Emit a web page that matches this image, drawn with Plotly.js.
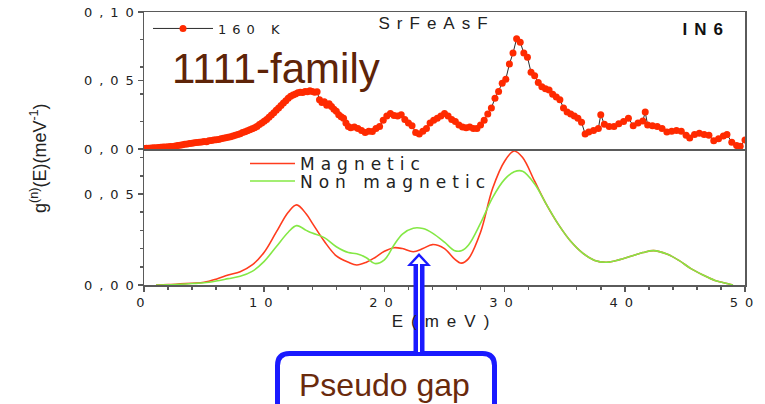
<!DOCTYPE html>
<html>
<head>
<meta charset="utf-8">
<script src="https://cdn.plot.ly/plotly-3.0.1.min.js"></script>
<style>
  html, body { margin: 0; padding: 0; background: #ffffff; }
  #chart { width: 765px; height: 404px; }
  .xtick text, .ytick text, .y2tick text { letter-spacing: 7px; }
  .ytick text, .y2tick text { translate: 6px 0; }
  [class*="legend"] text, text.legendtext { letter-spacing: 6px; }
  [class*="legend"] .scrollbox, [class*="legend"] g { clip-path: none !important; }
  .xtitle { letter-spacing: 8px; }
  .annotation[data-index="1"] text, .annotation[data-index="2"] text { letter-spacing: 7px; }
</style>
</head>
<body>
<div id="chart"></div>
<script>
// Measured g(n)(E) at 160 K (IN6), energy in meV
const eTop = [
  0.0, 0.2, 0.4, 0.6, 0.8, 1.0, 1.2, 1.4, 1.6, 1.8,
  2.0, 2.2, 2.4, 2.6, 2.8, 3.0, 3.2, 3.4, 3.6, 3.8,
  4.0, 4.2, 4.4, 4.6, 4.8, 5.0, 5.2, 5.4, 5.6, 5.8,
  6.0, 6.2, 6.4, 6.6, 6.8, 7.0, 7.2, 7.4, 7.6, 7.8,
  8.0, 8.2, 8.4, 8.6, 8.8, 9.0, 9.2, 9.4, 9.6, 9.8,
  10.0, 10.2, 10.4, 10.6, 10.8, 11.0, 11.2, 11.4, 11.6, 11.8,
  12.0, 12.2, 12.4, 12.6, 12.8, 13.0, 13.2, 13.4, 13.6, 13.8,
  14.0, 14.2, 14.4, 14.6, 14.8, 15.0, 15.2, 15.4, 15.6, 15.8,
  16.0, 16.2, 16.4, 16.6, 16.8, 17.0, 17.2,
  17.5, 17.8, 18.1, 18.4, 18.7, 19.0, 19.3, 19.6, 19.9, 20.2,
  20.5, 20.8, 21.1, 21.4, 21.7, 22.0, 22.3, 22.6, 22.9, 23.2,
  23.5, 23.8, 24.1, 24.4, 24.7, 25.0, 25.3, 25.6, 25.9, 26.2,
  26.5, 26.8, 27.1, 27.4, 27.7, 28.0, 28.3, 28.6, 28.9, 29.2,
  29.5, 29.8, 30.1, 30.4, 30.7, 31.0, 31.3, 31.6, 31.9, 32.2,
  32.5, 32.8, 33.1, 33.4, 33.7, 34.0, 34.3, 34.6, 34.9, 35.2,
  35.5, 35.8, 36.1, 36.4, 36.7,
  37.0, 37.4, 37.8, 38.0, 38.3, 38.7, 39.1, 39.5, 39.9, 40.3,
  40.7, 41.1, 41.5, 41.7, 41.9, 42.3, 42.7, 43.1, 43.5, 43.9,
  44.3, 44.7, 45.1, 45.4, 45.8, 46.2, 46.6, 47.0, 47.4, 47.8,
  48.2, 48.5, 48.9, 49.3, 49.6, 50.0
];
const gTop = [
  0.0003, 0.0005, 0.0006, 0.0008, 0.0009, 0.0010, 0.0011, 0.0012, 0.0014, 0.0015,
  0.0016, 0.0018, 0.0019, 0.0022, 0.0025, 0.0028, 0.0031, 0.0035, 0.0036, 0.0040,
  0.0042, 0.0045, 0.0047, 0.0050, 0.0052, 0.0055, 0.0053, 0.0060, 0.0062, 0.0066,
  0.0068, 0.0070, 0.0075, 0.0079, 0.0082, 0.0086, 0.0090, 0.0094, 0.0100, 0.0106,
  0.0112, 0.0120, 0.0126, 0.0133, 0.0140, 0.0148, 0.0156, 0.0165, 0.0178, 0.0190,
  0.0203, 0.0216, 0.0232, 0.0248, 0.0264, 0.0282, 0.0300, 0.0318, 0.0335, 0.0352,
  0.0370, 0.0385, 0.0395, 0.0402, 0.0410, 0.0415, 0.0412, 0.0420, 0.0418, 0.0425,
  0.0420, 0.0415, 0.0418, 0.0360, 0.0340, 0.0345, 0.0320, 0.0330, 0.0310, 0.0290,
  0.0275, 0.0250, 0.0235, 0.0225, 0.0190, 0.0165, 0.0155,
  0.0160, 0.0150, 0.0135, 0.0120, 0.0130, 0.0128, 0.0150, 0.0165, 0.0210, 0.0240,
  0.0260, 0.0245, 0.0240, 0.0250, 0.0215, 0.0190, 0.0170, 0.0120, 0.0110, 0.0130,
  0.0150, 0.0190, 0.0210, 0.0225, 0.0240, 0.0260, 0.0240, 0.0215, 0.0200, 0.0175,
  0.0160, 0.0155, 0.0160, 0.0150, 0.0150, 0.0175, 0.0210, 0.0255, 0.0300, 0.0370,
  0.0420, 0.0480, 0.0510, 0.0620, 0.0700, 0.0805, 0.0780, 0.0700, 0.0670, 0.0560,
  0.0535, 0.0485, 0.0455, 0.0440, 0.0430, 0.0400, 0.0380, 0.0360, 0.0300, 0.0270,
  0.0255, 0.0240, 0.0225, 0.0195, 0.0110,
  0.0125, 0.0135, 0.0150, 0.0250, 0.0180, 0.0165, 0.0165, 0.0185, 0.0200, 0.0225,
  0.0170, 0.0190, 0.0205, 0.0270, 0.0175, 0.0170, 0.0165, 0.0150, 0.0125, 0.0130,
  0.0135, 0.0130, 0.0100, 0.0080, 0.0105, 0.0115, 0.0105, 0.0100, 0.0060, 0.0075,
  0.0095, 0.0105, 0.0050, 0.0025, 0.0020, 0.0065
];

// Calculated g(n)(E): magnetic and non magnetic models
const eCalc = [
  1, 2, 3, 4, 5, 6, 7, 8, 9, 10, 11, 12,
  12.7, 13.5, 14, 15, 16, 17,
  17.7, 18.5, 19.2, 20, 20.8, 21.5, 22.4, 23.2, 24,
  25, 25.8, 26.4, 27, 28, 29, 30, 30.8, 31.5,
  32.5, 33.5, 34.5, 35.5, 36.5, 37.5, 38.5, 39.5, 40.5, 41.5,
  42.4, 43.5, 44.5, 45.5, 46.5, 47.5, 48.5, 49
];
const gMagnetic = [
  0, 0.0002, 0.0006, 0.0010, 0.0015, 0.0032, 0.0055, 0.0073, 0.0110, 0.0180, 0.0290, 0.0400,
  0.0440, 0.0390, 0.0340, 0.0240, 0.0160, 0.0125,
  0.0110, 0.0125, 0.0150, 0.0185, 0.0205, 0.0200, 0.0183, 0.0200, 0.0222,
  0.0200, 0.0145, 0.0120, 0.0145, 0.0290, 0.0530, 0.0680, 0.0736, 0.0700,
  0.0570, 0.0440, 0.0330, 0.0240, 0.0175, 0.0135, 0.0125, 0.0138, 0.0158, 0.0178,
  0.0189, 0.0170, 0.0135, 0.0090, 0.0055, 0.0025, 0.0008, 0
];
const gNonMagnetic = [
  0, 0.0001, 0.0004, 0.0008, 0.0012, 0.0022, 0.0035, 0.0048, 0.0075, 0.0130, 0.0210, 0.0290,
  0.0326, 0.0300, 0.0285, 0.0260, 0.0210, 0.0178,
  0.0172, 0.0150, 0.0118, 0.0138, 0.0220, 0.0280, 0.0312, 0.0310, 0.0285,
  0.0235, 0.0190, 0.0188, 0.0220, 0.0340, 0.0480, 0.0580, 0.0622, 0.0625,
  0.0555, 0.0440, 0.0330, 0.0240, 0.0175, 0.0135, 0.0125, 0.0138, 0.0158, 0.0178,
  0.0189, 0.0170, 0.0135, 0.0090, 0.0055, 0.0025, 0.0008, 0
];

// Plot-area geometry (pixels) and helpers to place decorations in paper units
const ML = 144, MT = 12, PW = 601, PH = 273;
const px = p => (p - ML) / PW;
const py = p => (MT + PH - p) / PH;
const split = py(149);

const axisLine = '#5a5a5a';
const sans = 'Liberation Sans, Arial, sans-serif';
const wide = 'DejaVu Sans, Verdana, sans-serif';
const tickFont = { family: wide, size: 13, color: '#222' };

const traces = [
  {
    type: 'scatter', mode: 'lines+markers', name: '160 K',
    x: eTop, y: gTop, xaxis: 'x2', yaxis: 'y2', legend: 'legend',
    line: { color: '#2b2b2b', width: 1 },
    marker: { color: '#ff2a00', size: 7 }
  },
  {
    type: 'scatter', mode: 'lines', name: 'Magnetic',
    x: eCalc, y: gMagnetic, xaxis: 'x', yaxis: 'y', legend: 'legend2',
    line: { color: '#ff3c1e', width: 1.6, shape: 'spline', smoothing: 1 }
  },
  {
    type: 'scatter', mode: 'lines', name: 'Non magnetic',
    x: eCalc, y: gNonMagnetic, xaxis: 'x', yaxis: 'y', legend: 'legend3',
    line: { color: '#84e845', width: 1.6, shape: 'spline', smoothing: 1 }
  }
];

const blue = '#1a1aff';
const r = 12;
const boxL = 277.5, boxR = 494.5, boxT = 353.5, boxB = 430;
const boxPath =
  `M ${px(boxL)},${py(boxB)} L ${px(boxL)},${py(boxT + r)} ` +
  `Q ${px(boxL)},${py(boxT)} ${px(boxL + r)},${py(boxT)} ` +
  `L ${px(boxR - r)},${py(boxT)} ` +
  `Q ${px(boxR)},${py(boxT)} ${px(boxR)},${py(boxT + r)} ` +
  `L ${px(boxR)},${py(boxB)}`;

const shapes = [
  // rounded label box
  { type: 'path', xref: 'paper', yref: 'paper', layer: 'above', path: boxPath,
    line: { color: blue, width: 5 }, fillcolor: 'rgba(0,0,0,0)' },
  // double-line arrow shaft
  { type: 'rect', xref: 'paper', yref: 'paper', layer: 'above',
    x0: px(413.5), x1: px(424.5), y0: py(352), y1: py(264),
    line: { width: 0 }, fillcolor: blue },
  // arrow head
  { type: 'path', xref: 'paper', yref: 'paper', layer: 'above',
    path: `M ${px(407)},${py(266)} L ${px(419)},${py(253)} L ${px(431)},${py(266)} Z`,
    line: { width: 0 }, fillcolor: blue },
  { type: 'path', xref: 'paper', yref: 'paper', layer: 'above',
    path: `M ${px(412)},${py(264)} L ${px(419)},${py(256.5)} L ${px(426)},${py(264)} Z`,
    line: { width: 0 }, fillcolor: '#ffffff' },
  { type: 'rect', xref: 'paper', yref: 'paper', layer: 'above',
    x0: px(418), x1: px(420), y0: py(352), y1: py(262),
    line: { width: 0 }, fillcolor: '#ffffff' }
];

const note = (text, x, y, font, extra) => Object.assign({
  text, xref: 'paper', yref: 'paper', x: px(x), y: py(y),
  xanchor: 'center', yanchor: 'middle', showarrow: false, font
}, extra || {});

const annotations = [
  note('g<sup>(n)</sup>(E)(meV<sup>-1</sup>)', 38, 158, { family: sans, size: 18, color: '#222' }, { textangle: -90 }),
  note('SrFeAsF', 436, 24, { family: sans, size: 17, color: '#222' }),
  note('<b>IN6</b>', 706, 30, { family: sans, size: 17, color: '#111' }),
  note('1111-family', 276, 68, { family: sans, size: 42, color: '#5e2408' }),
  note('Pseudo gap', 384, 385, { family: sans, size: 32, color: '#6a2a0c' })
];

const legendBase = { xanchor: 'left', yanchor: 'top', bgcolor: 'rgba(0,0,0,0)', borderwidth: 0 };

const layout = {
  width: 765, height: 404,
  margin: { l: ML, r: 765 - ML - PW, t: MT, b: 404 - MT - PH, pad: 0 },
  paper_bgcolor: '#ffffff', plot_bgcolor: '#ffffff',
  separators: ',.',
  font: { family: sans, color: '#222' },
  xaxis: {
    domain: [0, 1], anchor: 'y', range: [0, 50],
    tickmode: 'linear', tick0: 0, dtick: 10,
    ticks: 'outside', ticklen: 5, tickwidth: 1.5, tickcolor: axisLine,
    minor: { tickmode: 'linear', tick0: 0, dtick: 2, ticks: 'outside', ticklen: 3, tickcolor: axisLine, showgrid: false },
    showline: true, linecolor: axisLine, linewidth: 1.5, mirror: false,
    showgrid: false, zeroline: false, tickfont: tickFont,
    title: { text: 'E(meV)', standoff: 6, font: { family: sans, size: 17, color: '#222' } }
  },
  xaxis2: {
    domain: [0, 1], anchor: 'y2', matches: 'x', range: [0, 50],
    showticklabels: false, ticks: '',
    showline: true, linecolor: axisLine, linewidth: 1.5, mirror: true,
    showgrid: false, zeroline: false
  },
  yaxis: {
    domain: [0, split], anchor: 'x', range: [0, 0.0747],
    tickmode: 'linear', tick0: 0, dtick: 0.05, tickformat: '.2f',
    ticks: 'outside', ticklen: 5, tickwidth: 1.5, tickcolor: axisLine,
    minor: { tickmode: 'linear', tick0: 0, dtick: 0.01, ticks: 'outside', ticklen: 3, tickcolor: axisLine, showgrid: false },
    showline: true, linecolor: axisLine, linewidth: 1.5, mirror: true,
    showgrid: false, zeroline: false, tickfont: tickFont
  },
  yaxis2: {
    domain: [split, 1], anchor: 'x2', range: [0, 0.1],
    tickmode: 'linear', tick0: 0, dtick: 0.05, tickformat: '.2f',
    ticks: 'outside', ticklen: 5, tickwidth: 1.5, tickcolor: axisLine,
    minor: { tickmode: 'linear', tick0: 0, dtick: 0.02, ticks: 'outside', ticklen: 3, tickcolor: axisLine, showgrid: false },
    showline: true, linecolor: axisLine, linewidth: 1.5, mirror: true,
    showgrid: false, zeroline: false, tickfont: tickFont
  },
  showlegend: true,
  legend: Object.assign({}, legendBase, {
    x: px(148), y: py(13.5), itemwidth: 60,
    font: { family: wide, size: 13, color: '#222' }
  }),
  legend2: Object.assign({}, legendBase, {
    x: px(245), y: py(146), itemwidth: 45,
    font: { family: wide, size: 17, color: '#222' }
  }),
  legend3: Object.assign({}, legendBase, {
    x: px(245), y: py(163.5), itemwidth: 45,
    font: { family: wide, size: 17, color: '#222' }
  }),
  shapes: shapes,
  annotations: annotations
};

Plotly.newPlot('chart', traces, layout, { displayModeBar: false, staticPlot: true });
</script>
</body>
</html>
